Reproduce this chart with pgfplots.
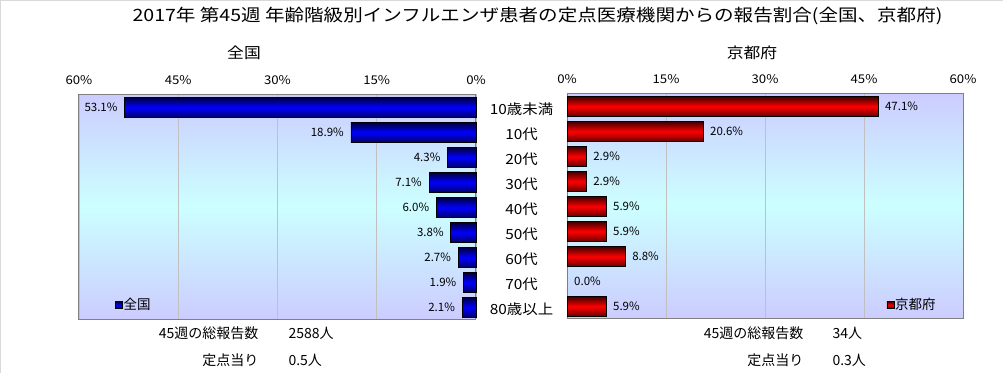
\documentclass[border=0pt]{standalone}
\usepackage{pgfplots}
\pgfplotsset{compat=1.18}
\usepackage{fontspec}
\setmainfont{Noto Sans CJK JP}
\definecolor{lav}{RGB}{204,204,255}
\definecolor{cy}{RGB}{204,255,255}
\definecolor{gridc}{RGB}{192,192,192}
\definecolor{framec}{RGB}{128,128,128}
\pgfplotsset{
  common/.style={
    scale only axis, height=225pt,
    ymin=-0.46, ymax=8.54,
    xmin=0, xmax=60,
    xtick={0,15,30,45,60},
    xticklabels={0\%,15\%,30\%,45\%,60\%},
    xticklabel pos=upper,
    xticklabel style={anchor=center, yshift=13.5pt, font=\fontsize{12}{12}\selectfont, xscale=1.1},
    xmajorgrids, grid style={gridc, line width=0.8pt},
    major tick length=0pt,
    axis line style={framec, line width=1pt},
    axis background/.style={top color=lav, bottom color=lav, middle color=cy},
    xbar, bar width=20pt,
    /pgf/number format/assume math mode=true,
    nodes near coords={\pgfmathprintnumber[fixed,fixed zerofill,precision=1]{\pgfplotspointmeta}\%},
    legend style={draw=none, fill=none, font=\fontsize{13.5}{13.5}\selectfont, inner sep=0pt, nodes={inner sep=1pt}},
    clip=false,
  },
  bbar/.style={draw=black, line width=0.7pt, top color=blue!25!black, bottom color=blue!40!black, middle color=blue,
    bar shift=0pt, every node near coord/.append style={font=\fontsize{11.5}{11.5}\selectfont, black, anchor=east, xshift=-3.5pt}},
  rbar/.style={draw=black, line width=0.7pt, top color=red!25!black, bottom color=red!40!black, middle color=red,
    bar shift=0pt, every node near coord/.append style={font=\fontsize{11.5}{11.5}\selectfont, black, anchor=west, xshift=3.5pt}},
}
\begin{document}
\begin{tikzpicture}[x=1pt,y=1pt]
\useasboundingbox (0,0) rectangle (1006,373);
\draw[black!15, line width=1pt] (0.5,0) -- (0.5,372.5) -- (1003,372.5);
% title
\node[font=\fontsize{17}{17}\selectfont, xscale=1.15] at (537.5,357) {2017年 第45週 年齢階級別インフルエンザ患者の定点医療機関からの報告割合(全国、京都府)};
\node[font=\fontsize{15}{15}\selectfont, xscale=1.12] at (244,320) {全国};
\node[font=\fontsize{15}{15}\selectfont, xscale=1.12] at (752,320) {京都府};
% left axis: 全国
\begin{axis}[common, width=397pt, at={(79pt,54pt)}, anchor=south west,
  x dir=reverse, ytick=\empty,
  legend style={at={(0.09,0.062)}, anchor=west},
  legend image code/.code={\draw[fill=blue, draw=black, line width=0.6pt] (0pt,-3.5pt) rectangle (7pt,3.5pt);},
  ]
\addplot[bbar] coordinates {(53.1,8)};
\addlegendentry{全国}
\addplot[bbar, forget plot] coordinates {(18.9,7)};
\addplot[bbar, forget plot] coordinates {(4.3,6)};
\addplot[bbar, forget plot] coordinates {(7.1,5)};
\addplot[bbar, forget plot] coordinates {(6.0,4)};
\addplot[bbar, forget plot] coordinates {(3.8,3)};
\addplot[bbar, forget plot] coordinates {(2.7,2)};
\addplot[bbar, forget plot] coordinates {(1.9,1)};
\addplot[bbar, forget plot] coordinates {(2.1,0)};
\end{axis}
% right axis: 京都府
\begin{axis}[common, width=396pt, at={(567pt,55pt)}, anchor=south west,
  ytick={0,...,8},
  yticklabels={80歳以上,70代,60代,50代,40代,30代,20代,10代,10歳未満},
  yticklabel style={anchor=center, xshift=-45.5pt, yshift=-3pt, font=\fontsize{14}{14}\selectfont, xscale=1.1},
  legend style={at={(0.934,0.058)}, anchor=east},
  legend image code/.code={\draw[fill=red, draw=black, line width=0.6pt] (0pt,-3.5pt) rectangle (7pt,3.5pt);},
  ]
\addplot[rbar] coordinates {(47.1,8)};
\addlegendentry{京都府}
\addplot[rbar, forget plot] coordinates {(20.6,7)};
\addplot[rbar, forget plot] coordinates {(2.9,6)};
\addplot[rbar, forget plot] coordinates {(2.9,5)};
\addplot[rbar, forget plot] coordinates {(5.9,4)};
\addplot[rbar, forget plot] coordinates {(5.9,3)};
\addplot[rbar, forget plot] coordinates {(8.8,2)};
\addplot[rbar, draw=none, shading=none, fill=none, forget plot] coordinates {(0.0,1)};
\addplot[rbar, forget plot] coordinates {(5.9,0)};
\end{axis}
% bottom notes
\begin{scope}[font=\fontsize{14}{14}\selectfont]
\node[anchor=east] at (262,40) {45週の総報告数};
\node[anchor=west] at (285,40) {2588人};
\node[anchor=east] at (262,13) {定点当り};
\node[anchor=west] at (285,13) {0.5人};
\node[anchor=east] at (807,40) {45週の総報告数};
\node[anchor=west] at (829,40) {34人};
\node[anchor=east] at (807,13) {定点当り};
\node[anchor=west] at (829,13) {0.3人};
\end{scope}
\end{tikzpicture}
\end{document}
